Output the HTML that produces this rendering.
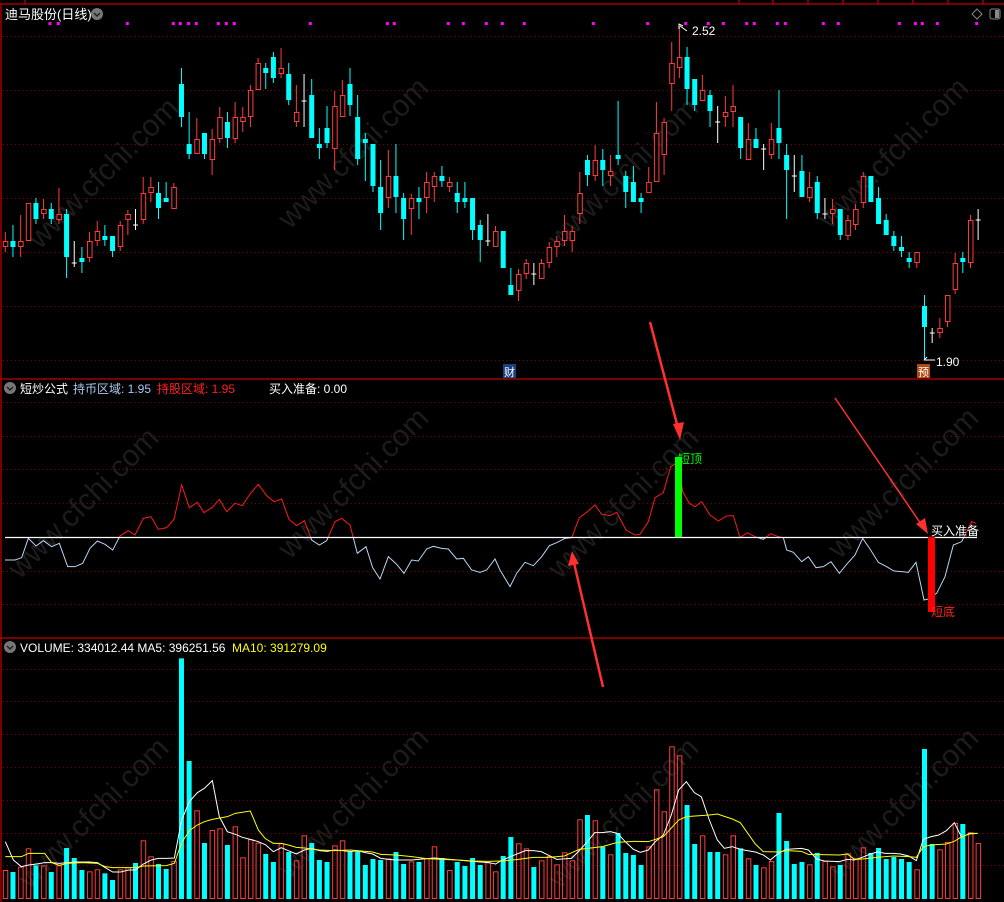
<!DOCTYPE html>
<html><head><meta charset="utf-8"><style>
html,body{margin:0;padding:0;background:#000;width:1004px;height:902px;overflow:hidden}
svg{display:block}
text{font-family:"Liberation Sans","Noto Sans CJK SC",sans-serif}
</style></head><body>
<svg id="s" width="1004" height="902" xmlns="http://www.w3.org/2000/svg">
<rect width="1004" height="902" fill="#000"/>
<g id="wm" fill="#1c1c1c" font-size="30" font-family="Liberation Sans,sans-serif">
<text transform="translate(40,250) rotate(-45)">www.cfchi.com</text>
<text transform="translate(290,230) rotate(-45)">www.cfchi.com</text>
<text transform="translate(560,250) rotate(-45)">www.cfchi.com</text>
<text transform="translate(830,230) rotate(-45)">www.cfchi.com</text>
<text transform="translate(20,580) rotate(-45)">www.cfchi.com</text>
<text transform="translate(290,560) rotate(-45)">www.cfchi.com</text>
<text transform="translate(560,580) rotate(-45)">www.cfchi.com</text>
<text transform="translate(840,560) rotate(-45)">www.cfchi.com</text>
<text transform="translate(30,890) rotate(-45)">www.cfchi.com</text>
<text transform="translate(290,880) rotate(-45)">www.cfchi.com</text>
<text transform="translate(560,890) rotate(-45)">www.cfchi.com</text>
<text transform="translate(840,880) rotate(-45)">www.cfchi.com</text>
</g>
<g id="grid" stroke="#7a0000" stroke-width="1" stroke-dasharray="1,3"></g>
<g id="frame" stroke="#a00000" stroke-width="1.5" fill="none">
<line x1="0" y1="4" x2="1004" y2="4"/>
<line x1="1" y1="4" x2="1" y2="902"/>
<line x1="0" y1="379" x2="1004" y2="379"/>
<line x1="0" y1="638" x2="1004" y2="638"/>
<line x1="25" y1="0" x2="25" y2="4"/>
<line x1="739" y1="0" x2="739" y2="4"/><line x1="773" y1="0" x2="773" y2="4"/><line x1="808" y1="0" x2="808" y2="4"/><line x1="843" y1="0" x2="843" y2="4"/><line x1="878" y1="0" x2="878" y2="4"/><line x1="913" y1="0" x2="913" y2="4"/><line x1="948" y1="0" x2="948" y2="4"/><line x1="983" y1="0" x2="983" y2="4"/>
</g>
<g id="dots" fill="#ff00ff"></g>
<g id="candles"></g>
<g id="ind"></g>
<g id="vol"></g>

<text x="5" y="19" fill="#fff" font-size="13">迪马股份(日线)</text>
<circle cx="97" cy="14" r="6" fill="#777"/><path d="M94 13 L97 16 L100 13" stroke="#222" stroke-width="1.5" fill="none"/>
<path d="M977 9 L982 14 L977 19 L972 14 Z" stroke="#888" fill="none"/>
<rect x="990" y="9" width="10" height="10" rx="2" stroke="#888" fill="none"/><rect x="995" y="10" width="4" height="8" fill="#888"/>

<circle cx="10" cy="388" r="6" fill="#777"/><path d="M7 387 L10 390 L13 387" stroke="#222" stroke-width="1.5" fill="none"/>
<text x="20" y="393" fill="#fff" font-size="12">短炒公式</text>
<text x="73" y="393" fill="#a8c8f0" font-size="12">持币区域: 1.95</text>
<text x="157" y="393" fill="#ff2020" font-size="12">持股区域: 1.95</text>
<text x="269" y="393" fill="#fff" font-size="12">买入准备: 0.00</text>

<circle cx="10" cy="647" r="6" fill="#777"/><path d="M7 646 L10 649 L13 646" stroke="#222" stroke-width="1.5" fill="none"/>
<text x="20" y="652" fill="#fff" font-size="12">VOLUME: 334012.44  MA5: 396251.56</text>
<text x="232" y="652" fill="#ffff00" font-size="12">MA10: 391279.09</text>

<path d="M679 29 L679 24 L683 26 M680 26 L687 31" stroke="#fff" fill="none"/>
<text x="692" y="35" fill="#fff" font-size="12">2.52</text>
<path d="M924 360 L935 360 M924 360 L927 357" stroke="#fff" fill="none"/>
<text x="936" y="366" fill="#fff" font-size="12">1.90</text>
<rect x="503" y="364" width="13" height="14" fill="#1a4080"/><text x="504" y="376" fill="#fff" font-size="11">财</text>
<rect x="917" y="364" width="13" height="14" fill="#b04a10"/><text x="918" y="376" fill="#fff" font-size="11">预</text>

<rect x="675" y="457" width="7" height="80" fill="#00ff00"/>
<rect x="928" y="537" width="7" height="75" fill="#ff0000"/>
<text x="678" y="463" fill="#00ff00" font-size="12">短顶</text>
<text x="931" y="535" fill="#fff" font-size="12">买入准备</text>
<text x="931" y="616" fill="#ff2020" font-size="12">短底</text>

<g stroke="#ff3030" fill="#ff3030">
<line x1="650" y1="322" x2="678" y2="428" stroke-width="2.5"/>
<path d="M680 440 L673 424 L684 422 Z" stroke="none"/>
<line x1="603" y1="687" x2="574" y2="563" stroke-width="2.5"/>
<path d="M572 551 L568 566 L579 564 Z" stroke="none"/>
<line x1="835" y1="398" x2="921" y2="524" stroke-width="1.5"/>
<path d="M928 534 L916 524 L925 518 Z" stroke="none"/>
</g>
</svg>
<script>
var NS="http://www.w3.org/2000/svg";
function el(p,t,a){var e=document.createElementNS(NS,t);for(var k in a)e.setAttribute(k,a[k]);p.appendChild(e);return e;}
var g=document.getElementById('grid');
[36,90,144,198,252,306,360,402,436,469,503,571,604,669,701,734,767,800,833,865].forEach(function(y){el(g,'line',{x1:3,y1:y+.5,x2:1004,y2:y+.5});});
var d=document.getElementById('dots');
[150,175,382,520,541,566,589,655,679,703,931,1162,1183,1345,1390,1459].forEach(function(x){el(d,'rect',{x:x/3-1.5,y:22,width:3,height:3});});
[7,73,280,443,557,625,670,740,763,832,856,970,1015,1198,1246,1267,1312,1430].forEach(function(x){el(d,'rect',{x:500+x/3-1.5,y:22,width:3,height:3});});
var C=[
['r',241,247,232,252],['c',241,247,225,257],['r',241,247,215,257],['r',203,241,203,241],['c',203,219,198,224],['r',209,214,199,219],['c',209,219,203,224],['r',214,220,188,224],['c',214,257,209,278],['w',263,263,241,267],
['c',258,262,247,273],['r',241,258,232,262],['r',231,241,221,246],['c',236,240,225,246],['c',236,251,236,257],['r',225,247,221,251],['r',214,220,210,235],['w',225,225,209,230],['r',193,220,177,224],['r',187,193,177,202],
['c',193,208,182,219],['c',198,202,182,202],['r',187,209,183,209],['c',84,117,68,127],['c',144,154,112,159],['r',139,154,118,154],['c',133,154,133,159],['r',139,160,129,175],['r',117,139,107,143],['c',122,138,112,148],
['r',117,139,102,143],['r',117,122,107,132],['r',90,117,85,127],['r',63,90,58,90],['c',68,73,63,89],['c',57,78,52,83],['r',68,74,48,78],['c',74,100,63,105],['r',112,122,85,127],['w',101,101,74,127],
['c',95,138,79,138],['c',144,148,128,159],['c',128,143,106,148],['r',106,149,91,170],['r',95,117,80,117],['c',84,105,68,116],['c',117,159,95,165],['c',139,143,133,181],['c',144,186,144,192],['c',187,213,160,230],
['r',176,198,150,208],['c',176,197,144,213],['c',198,219,193,240],['r',198,209,194,235],['c',198,202,187,219],['r',182,198,172,213],['r',176,187,172,202],['c',176,181,166,187],['r',182,187,177,192],['c',193,202,182,213],
['c',198,202,182,208],['c',198,230,198,240],['c',225,240,220,262],['w',241,241,214,246],['r',231,247,226,247],
['c',231,268,231,268],['c',285,295,268,295],['r',274,291,269,301],['r',263,274,259,279],['w',274,274,263,285],['r',263,279,259,279],['r',247,263,242,268],['r',241,247,236,257],['r',231,241,215,246],['r',231,241,226,252],
['r',193,214,172,224],['c',160,175,155,186],['r',160,176,145,181],['c',160,170,149,186],['r',171,176,155,186],['c',155,159,101,165],['c',176,192,171,208],['c',182,202,166,202],['c',198,202,193,213],['r',182,193,167,193],
['r',133,182,102,182],['r',122,155,118,175],['r',63,84,42,111],['r',57,68,26,78],['c',57,89,47,105],['c',79,105,79,111],['r',90,101,75,101],['c',95,111,90,127],['w',122,122,106,143],['r',112,117,96,127],
['r',106,112,85,127],['c',117,148,117,159],['r',139,160,123,160],['c',139,148,128,148],['w',149,149,144,170],['r',139,155,123,159],['c',128,143,90,159],['c',155,170,144,219],['w',176,176,155,192],['c',171,197,155,197],
['r',187,198,172,202],['c',182,213,176,219],['w',214,214,198,219],['r',209,214,199,224],['c',209,235,209,240],['r',220,236,215,240],['r',209,225,204,230],['r',176,203,172,208],['c',176,202,176,202],['c',198,224,187,224],
['c',220,235,214,235],['c',236,246,231,251],['c',247,251,236,257],['c',258,262,252,268],['r',252,263,252,268],['c',306,327,295,360],['w',333,333,328,343],['r',328,333,318,338],['r',295,322,295,327],['r',263,290,253,294],
['c',258,262,252,273],['r',220,263,215,268],['w',220,220,209,240]];
var cg=document.getElementById('candles');
function X(i){return 5.3+i*7.66;}
C.forEach(function(c,i){var x=X(i),col=c[0]=='r'?'#ff3c3c':c[0]=='c'?'#00ffff':'#ffffff';
 el(cg,'line',{x1:x,y1:c[3],x2:x,y2:c[4],stroke:col,'stroke-width':1});
 if(c[0]=='w'){el(cg,'line',{x1:x-2.5,y1:c[1],x2:x+2.5,y2:c[1],stroke:col});}
 else if(c[0]=='c'){el(cg,'rect',{x:x-2.5,y:c[1],width:5,height:Math.max(1,c[2]-c[1]),fill:col});}
 else{el(cg,'rect',{x:x-2,y:c[1]+.5,width:4.5,height:Math.max(1,c[2]-c[1]-1),fill:'#000',stroke:col,'stroke-width':1});}
});
var P1=[[15,555],[45,555],[65,548],[85,490],[108,513],[130,497],[155,515],[178,505],[203,575],[225,575],[248,565],[270,520],[292,498],[315,508],[338,525],[360,483],[385,467],[405,480],[430,430],[453,425],[475,463],[500,458],[522,433],[545,330],[568,398],[592,382],[612,413],[637,397],[658,373],[680,410],[705,385],[727,392],[750,357],[775,328],[800,362],[822,380],[845,372],[867,433],[890,452],[913,437],[935,495],[958,510],[980,497],[1005,440],[1025,430],[1050,450],[1072,535],[1098,515],[1118,578],[1140,612],[1165,545],[1190,568],[1212,595],[1235,555],[1255,558],[1280,522],[1300,514],[1325,520],[1345,522],[1370,552],[1390,550],[1415,585],[1440,592],[1460,585],[1485,552]];
var P2=[[0,585],[30,635],[50,595],[75,562],[100,572],[125,545],[148,512],[170,503],[195,490],[215,488],[238,428],[260,412],[285,390],[305,418],[330,422],[350,412],[378,465],[405,480],[420,478],[445,440],[465,368],[490,353],[512,275],[535,262],[548,350],[568,385],[585,395],[605,380],[630,420],[655,438],[680,423],[700,422],[720,488],[742,473],[765,485],[790,493],[812,476],[835,485],[850,488],[860,525],[880,532],[905,560],[925,545],[948,578],[970,575],[993,560],[1018,595],[1040,568],[1065,540],[1088,490],[1110,522],[1135,562],[1160,575],[1182,588],[1205,590],[1225,592],[1248,562],[1272,675],[1285,672],[1310,655],[1335,605],[1360,510],[1385,500],[1400,470],[1415,440],[1428,445]];
var pts=P1.map(function(p){return (p[0]/3)+','+(375+p[1]/3);}).concat(P2.map(function(p){return (500+p[0]/3)+','+(375+p[1]/3);})).join(' ');
var ig=document.getElementById('ind');
var defs=el(ig,'defs',{});
var c1=el(defs,'clipPath',{id:'ca'});el(c1,'rect',{x:0,y:380,width:1004,height:157});
var c2=el(defs,'clipPath',{id:'cb'});el(c2,'rect',{x:0,y:537,width:1004,height:100});
el(ig,'polyline',{points:pts,fill:'none',stroke:'#ff1a1a','stroke-width':1,'clip-path':'url(#ca)'});
el(ig,'polyline',{points:pts,fill:'none',stroke:'#b8d4f4','stroke-width':1,'clip-path':'url(#cb)'});
el(ig,'line',{x1:5,y1:537.5,x2:977,y2:537.5,stroke:'#fff','stroke-width':1.2});
ig.parentNode.insertBefore(ig,document.querySelector('rect[fill="#00ff00"]'));
var V1=[[690,'r'],[696,'c'],[680,'r'],[625,'r'],[676,'c'],[676,'r'],[696,'c'],[676,'r'],[624,'c'],[654,'c'],[690,'c'],[694,'r'],[688,'r'],[700,'c'],[720,'c'],[688,'r'],[682,'r'],[669,'c'],[601,'r'],[649,'r'],[672,'c'],[687,'c'],[663,'r'],[55,'c'],[363,'c'],[511,'r'],[609,'c'],[570,'r'],[565,'r'],[615,'c'],[559,'r'],[652,'r'],[598,'r'],[608,'r'],[642,'c'],[666,'c'],[610,'r'],[636,'c'],[661,'r'],[586,'r'],[609,'c'],[660,'c'],[666,'c'],[616,'r'],[601,'r'],[636,'c'],[632,'c'],[675,'c'],[657,'c'],[660,'c'],[655,'r'],[636,'c'],[672,'c'],[664,'r'],[666,'c'],[655,'r'],[619,'r'],[654,'c'],[690,'r'],[666,'c'],[678,'c'],[654,'c'],[675,'c'],[667,'r'],[694,'r'],
[648,'c'],[591,'c'],[610,'r'],[625,'r'],[681,'c'],[661,'r'],[648,'r'],[673,'r'],[637,'r'],[661,'r'],[538,'r'],[525,'c'],[541,'r'],[620,'c'],[643,'r'],[579,'c'],[639,'c'],[645,'c'],[675,'c'],[619,'r'],[448,'r'],[514,'r'],[319,'r'],[346,'r'],[495,'c'],[612,'c'],[586,'r'],[636,'c'],[636,'c'],[643,'r'],[586,'r'],[625,'c'],[655,'r'],[675,'c'],[682,'r'],[663,'r'],[519,'c'],[603,'c'],[672,'c'],[666,'c'],[673,'r'],[639,'c'],[663,'r'],[679,'r'],[675,'c'],[640,'r'],[655,'r'],[622,'r'],[639,'c'],[624,'c'],[657,'c'],[651,'c'],[657,'c'],[666,'c'],[688,'r'],[327,'c'],[612,'c'],[628,'r'],[606,'r'],[549,'r'],[552,'c'],[577,'r'],[609,'r']];
var vg=document.getElementById('vol');var base=899;
V1.forEach(function(v,i){var x=X(i),y=640+v[0]/3;
 if(v[1]=='c')el(vg,'rect',{x:x-2.5,y:y,width:5,height:base-y,fill:'#00ffff'});
 else el(vg,'rect',{x:x-2,y:y+.5,width:4.5,height:base-y-1,fill:'none',stroke:'#ff3c3c'});
});
function line(a,b,col){var p=a.map(function(q){return (q[0]/3)+','+(640+q[1]/3);}).concat(b.map(function(q){return (500+q[0]/3)+','+(640+q[1]/3);})).join(' ');el(vg,'polyline',{points:p,fill:'none',stroke:col,'stroke-width':1});}
line([[16,605],[40,660],[64,680],[86,675],[110,672],[134,668],[155,668],[178,670],[202,668],[223,666],[247,666],[268,666],[292,668],[316,683],[338,696],[362,696],[386,690],[406,690],[430,672],[454,660],[475,655],[499,655],[523,654],[545,540],[568,485],[592,458],[613,445],[637,422],[658,530],[682,575],[706,583],[727,592],[751,598],[775,605],[796,614],[820,635],[844,623],[865,632],[889,642],[913,630],[934,625],[958,632],[982,634],[1003,630],[1027,632],[1051,635],[1072,632],[1096,638],[1118,642],[1142,655],[1165,658],[1187,660],[1211,660],[1235,660],[1256,658],[1280,656],[1304,654],[1325,656],[1349,658],[1373,660],[1394,662],[1418,664],[1442,666],[1466,668],[1487,672]],
[[0,664],[31,650],[76,632],[100,632],[124,635],[146,646],[170,658],[214,655],[238,632],[262,605],[284,578],[307,578],[331,575],[352,580],[376,605],[400,628],[421,637],[445,630],[466,605],[490,585],[514,525],[536,450],[559,425],[583,458],[604,470],[628,540],[652,600],[673,625],[697,620],[721,628],[742,632],[766,636],[790,645],[811,660],[835,640],[859,628],[904,625],[925,630],[950,657],[973,663],[1018,665],[1042,658],[1063,660],[1087,652],[1111,642],[1132,636],[1156,640],[1180,640],[1202,642],[1226,648],[1249,662],[1270,598],[1294,590],[1316,585],[1339,572],[1363,548],[1385,592],[1409,580],[1433,580]],'#ffffff');
line([[16,650],[64,650],[86,640],[134,640],[155,668],[178,676],[202,670],[247,668],[292,670],[316,680],[338,683],[406,683],[430,678],[499,677],[523,670],[545,608],[568,572],[592,555],[613,545],[637,538],[682,530],[706,520],[751,513],[775,570],[796,596],[820,610],[844,610],[865,615],[889,622],[913,624],[958,630],[1003,632],[1051,630],[1096,634],[1118,636],[1142,643],[1187,645],[1235,650],[1280,656],[1325,658],[1373,660],[1418,663],[1466,664],[1500,663]],
[[0,664],[55,658],[100,652],[146,652],[193,648],[238,628],[307,620],[352,607],[400,604],[445,605],[490,590],[536,540],[559,530],[628,525],[652,522],[697,537],[721,548],[766,612],[790,635],[835,636],[859,632],[904,634],[925,643],[1018,645],[1042,642],[1063,658],[1087,657],[1132,652],[1180,648],[1226,650],[1249,652],[1270,620],[1294,615],[1339,612],[1363,604],[1385,590],[1409,582],[1433,580]],'#ffff00');
</script>
</body></html>
